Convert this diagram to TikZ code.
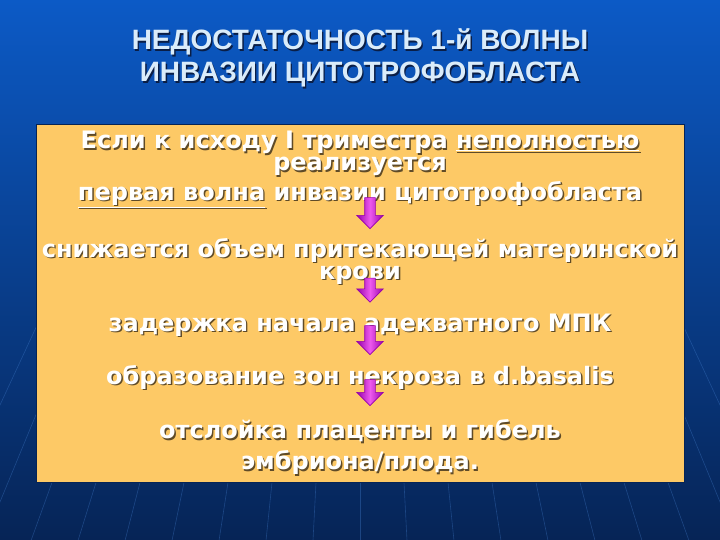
\documentclass[tikz,border=0pt]{standalone}
\usepackage{fontspec}
\setmainfont{DejaVu Sans}
\newfontfamily\titlefont{Liberation Sans}
\usetikzlibrary{shapes.arrows,positioning}

\definecolor{slidetop}{RGB}{12,90,198}
\definecolor{slidebot}{RGB}{6,36,86}
\definecolor{raycol}{RGB}{70,130,210}
\definecolor{panelfill}{RGB}{253,201,102}
\definecolor{titlecol}{RGB}{218,236,250}
\definecolor{shadowc}{RGB}{95,75,40}
\definecolor{titleshadow}{RGB}{10,30,70}
\definecolor{arrowfill}{RGB}{238,90,238}
\definecolor{arrowedge}{RGB}{150,0,170}

% white text with a dark drop shadow
\newcommand{\sh}[2][shadowc]{\makebox[0pt][l]{\hspace{1.4pt}\raisebox{-1.4pt}{\color{#1}#2}}#2}

\tikzset{
  titletext/.style={text=titlecol, align=center, font=\titlefont\bfseries\fontsize{28}{32}\selectfont},
  steptext/.style={text=white, align=center, inner sep=0pt, font=\bfseries\fontsize{24}{19}\selectfont},
  downarrow/.style={single arrow, rotate=-90, left color=arrowedge, right color=arrowedge, middle color=arrowfill,
    draw=arrowedge, line width=0.6pt, inner sep=5pt, single arrow head extend=8pt, single arrow head indent=0pt},
}

\begin{document}
\begin{tikzpicture}[x=1pt,y=-1pt]
\useasboundingbox (0,0) rectangle (720,540);
\shade[top color=slidetop, bottom color=slidebot] (0,0) rectangle (720,540);
\begin{scope}
  \clip (0,300) rectangle (720,540);
  \foreach \k in {-9,...,9}
    \draw[raycol, opacity=0.35, line width=0.6pt] (360,-370) -- (360+\k*48,560);
\end{scope}

\node[titletext] (title) at (360,59) {\sh[titleshadow]{НЕДОСТАТОЧНОСТЬ 1-й ВОЛНЫ}\\\sh[titleshadow]{ИНВАЗИИ ЦИТОТРОФОБЛАСТА}};

\node[fill=panelfill, draw=slidebot, line width=1pt, minimum width=648pt, minimum height=357pt] (panel) at (360,303.5) {};

\node[steptext] (cause) at (360,170) {\sh{Если к исходу I триместра \underline{неполностью}}\\[1pt]\sh{реализуется}\\[3pt]\sh{\underline{первая волна} инвазии цитотрофобласта}};
\node[steptext] (flow) at (360,262) {\sh{снижается объем притекающей материнской}\\[1pt]\sh{крови}};
\node[steptext] (delay) at (360,326) {\sh{задержка начала адекватного МПК}};
\node[steptext] (necro) at (360,378) {\sh{образование зон некроза в d.basalis}};
\node[steptext] (loss) at (360,448) {\sh{отслойка плаценты и гибель}\\[6pt]\sh{эмбриона/плода.}};

\node[downarrow, minimum height=31pt] (a1) at (370,210.5) {};
\node[downarrow, minimum height=24pt] (a2) at (370,287.5) {};
\node[downarrow, minimum height=29pt] (a3) at (370,337.5) {};
\node[downarrow, minimum height=26pt] (a4) at (370,390) {};
\end{tikzpicture}
\end{document}
